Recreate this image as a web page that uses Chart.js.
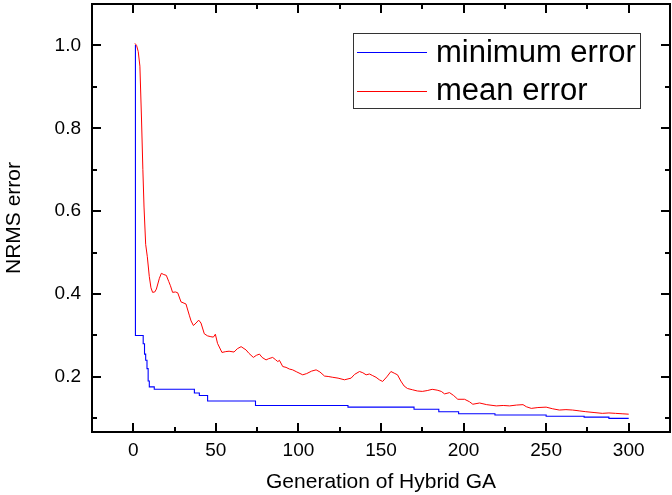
<!DOCTYPE html>
<html>
<head>
<meta charset="utf-8">
<script src="https://cdn.jsdelivr.net/npm/chart.js@4/dist/chart.umd.min.js"></script>
<style>
  html, body { margin: 0; padding: 0; background: #fff; }
  #wrap { width: 672px; height: 495px; }
</style>
</head>
<body>
<div id="wrap"><canvas id="c" width="672" height="495"></canvas></div>
<script>
// ---- data ----
const minGen = [1, 1.3, 6, 6.8, 7.5, 8.3, 9, 9.7, 12.7, 37, 40, 45, 74, 130, 170, 185, 197, 219, 250, 273, 288, 300];
const minErr = [1.0, 0.30, 0.28, 0.255, 0.24, 0.22, 0.19, 0.176, 0.170, 0.161, 0.155, 0.142, 0.131, 0.127, 0.122, 0.116, 0.111, 0.108, 0.105, 0.103, 0.100, 0.100];

const meanGen = [1, 2, 3, 4, 5, 5.8, 6.5, 7.5, 8.5, 9.7, 10.7, 11.7, 13, 14, 15.8, 17, 18.5, 20, 21.5, 22.5,
  23.8, 25.5, 26.9, 28.9, 31.9, 33.9, 35, 36.4, 38, 39.6, 41, 43, 45, 47, 48.5, 49.7, 51, 53.7, 56, 58,
  61, 63, 65.3, 68.3, 70, 72.7, 74.5, 76.4, 78, 80.4, 82, 84.4, 86, 87.5, 88.5, 90.5, 92.5, 94.5, 96.5, 99,
  102.6, 105, 108, 110.7, 113, 115.8, 118, 120.8, 124, 127.9, 131.9, 134, 137, 139, 141, 143, 145, 147, 149, 151,
  153.5, 156, 158, 160, 162, 164, 166, 169, 172, 175, 178, 181, 184, 186.5, 188.5, 191.5, 194, 196.5, 200.6, 203.6,
  205.6, 209.7, 214, 219.8, 224, 227.9, 232, 236, 238, 241, 245, 250, 254, 258, 262, 266, 270, 274, 279, 284,
  288, 292, 296, 300];
const meanErr = [1.005, 1.0, 0.985, 0.95, 0.82, 0.70, 0.61, 0.52, 0.49, 0.442, 0.415, 0.404, 0.405, 0.412, 0.438, 0.45, 0.447, 0.445, 0.43, 0.42,
  0.404, 0.405, 0.403, 0.381, 0.376, 0.349, 0.335, 0.324, 0.33, 0.337, 0.33, 0.304, 0.299, 0.297, 0.296, 0.303, 0.281, 0.259, 0.261, 0.262,
  0.260, 0.268, 0.273, 0.265, 0.257, 0.247, 0.252, 0.255, 0.247, 0.241, 0.244, 0.247, 0.242, 0.237, 0.240, 0.225, 0.223, 0.219, 0.217, 0.212,
  0.205, 0.208, 0.214, 0.217, 0.212, 0.202, 0.201, 0.199, 0.197, 0.193, 0.197, 0.206, 0.213, 0.210, 0.205, 0.207, 0.203, 0.199, 0.193, 0.189,
  0.200, 0.213, 0.209, 0.205, 0.190, 0.178, 0.172, 0.169, 0.166, 0.165, 0.167, 0.170, 0.168, 0.165, 0.159, 0.162, 0.155, 0.146, 0.146, 0.140,
  0.134, 0.137, 0.133, 0.130, 0.131, 0.130, 0.132, 0.133, 0.128, 0.124, 0.126, 0.127, 0.123, 0.120, 0.121, 0.120, 0.118, 0.116, 0.114, 0.112,
  0.113, 0.112, 0.111, 0.110];

const seriesLabels = ['minimum error', 'mean error'];
const xTickValues = [0, 50, 100, 150, 200, 250, 300];
const xMinorValues = [25, 75, 125, 175, 225, 275];
const yTickValues = [0.2, 0.4, 0.6, 0.8, 1.0];
const yMinorValues = [0.1, 0.3, 0.5, 0.7, 0.9];
const xTitle = 'Generation of Hybrid GA';
const yTitle = 'NRMS error';

// ---- build chart ----
const FONT = '"Liberation Sans", Arial, Helvetica, sans-serif';
Chart.defaults.font.family = FONT;
Chart.defaults.color = '#000';

const toPts = (xs, ys) => xs.map((x, i) => ({ x: x, y: ys[i] }));

const framePlugin = {
  id: 'frameTicks',
  afterDatasetsDraw(chart) {
    const { ctx, chartArea: a, scales } = chart;
    const xs = scales.x, ys = scales.y;
    ctx.save();
    ctx.strokeStyle = '#000';
    ctx.lineWidth = 2;
    ctx.lineCap = 'butt';
    ctx.strokeRect(a.left, a.top, a.right - a.left, a.bottom - a.top);
    const tick = (vals, len) => {
      ctx.beginPath();
      vals.forEach(v => {
        const px = Math.round(xs.getPixelForValue(v));
        ctx.moveTo(px, a.bottom); ctx.lineTo(px, a.bottom - len);
        ctx.moveTo(px, a.top); ctx.lineTo(px, a.top + len);
      });
      ctx.stroke();
    };
    const ytick = (vals, len) => {
      ctx.beginPath();
      vals.forEach(v => {
        const py = Math.round(ys.getPixelForValue(v));
        ctx.moveTo(a.left, py); ctx.lineTo(a.left + len, py);
        ctx.moveTo(a.right, py); ctx.lineTo(a.right - len, py);
      });
      ctx.stroke();
    };
    tick(xTickValues, 9); tick(xMinorValues, 5);
    ytick(yTickValues, 9); ytick(yMinorValues, 5);
    ctx.restore();
  },
  afterDraw(chart) {
    const { ctx } = chart;
    const ds = chart.data.datasets;
    ctx.save();
    ctx.fillStyle = '#fff';
    ctx.fillRect(353, 33, 288, 76);
    ctx.strokeStyle = '#333';
    ctx.lineWidth = 1;
    ctx.strokeRect(353.5, 33.5, 287, 75);
    const rows = [{ ly: 52, by: 62 }, { ly: 91, by: 100 }];
    ds.forEach((d, i) => {
      const r = rows[i];
      ctx.strokeStyle = d.borderColor;
      ctx.lineWidth = 1;
      ctx.beginPath();
      ctx.moveTo(357, r.ly + 0.5); ctx.lineTo(427, r.ly + 0.5);
      ctx.stroke();
      ctx.fillStyle = '#000';
      ctx.font = '31px ' + FONT;
      ctx.textAlign = 'left';
      ctx.textBaseline = 'alphabetic';
      ctx.fillText(d.label, 436, r.by);
    });
    ctx.restore();
  }
};

new Chart(document.getElementById('c'), {
  type: 'line',
  data: {
    datasets: [
      {
        label: seriesLabels[0],
        data: toPts(minGen, minErr),
        borderColor: '#0000ff',
        borderWidth: 1.1,
        pointRadius: 0,
        stepped: 'before',
        fill: false
      },
      {
        label: seriesLabels[1],
        data: toPts(meanGen, meanErr),
        borderColor: '#ff0000',
        borderWidth: 1,
        pointRadius: 0,
        tension: 0,
        fill: false
      }
    ]
  },
  options: {
    responsive: false,
    animation: false,
    devicePixelRatio: 1,
    layout: { padding: { top: 4, right: 2, left: 0, bottom: 0 } },
    plugins: { legend: { display: false }, tooltip: { enabled: false } },
    scales: {
      x: {
        type: 'linear',
        min: -25, max: 325,
        grid: { display: false, drawTicks: false },
        border: { display: false },
        afterBuildTicks: s => { s.ticks = xTickValues.map(v => ({ value: v })); },
        afterFit: s => { s.height = 63; s.paddingLeft = 0; s.paddingRight = 0; },
        ticks: { font: { size: 19 }, padding: 7, maxRotation: 0, autoSkip: false, callback: v => String(v) },
        title: { display: true, text: xTitle, font: { size: 21 }, padding: { top: 0, bottom: 0 } }
      },
      y: {
        type: 'linear',
        min: 0.067, max: 1.1,
        grid: { display: false, drawTicks: false },
        border: { display: false },
        afterBuildTicks: s => { s.ticks = yTickValues.map(v => ({ value: v })); },
        afterFit: s => { s.width = 92; s.paddingTop = 0; s.paddingBottom = 0; },
        ticks: { font: { size: 19 }, padding: 11, autoSkip: false, callback: v => Number(v).toFixed(1) },
        title: { display: true, text: yTitle, font: { size: 21 }, padding: { top: 2, bottom: 0 } }
      }
    }
  },
  plugins: [framePlugin]
});
</script>
</body>
</html>
